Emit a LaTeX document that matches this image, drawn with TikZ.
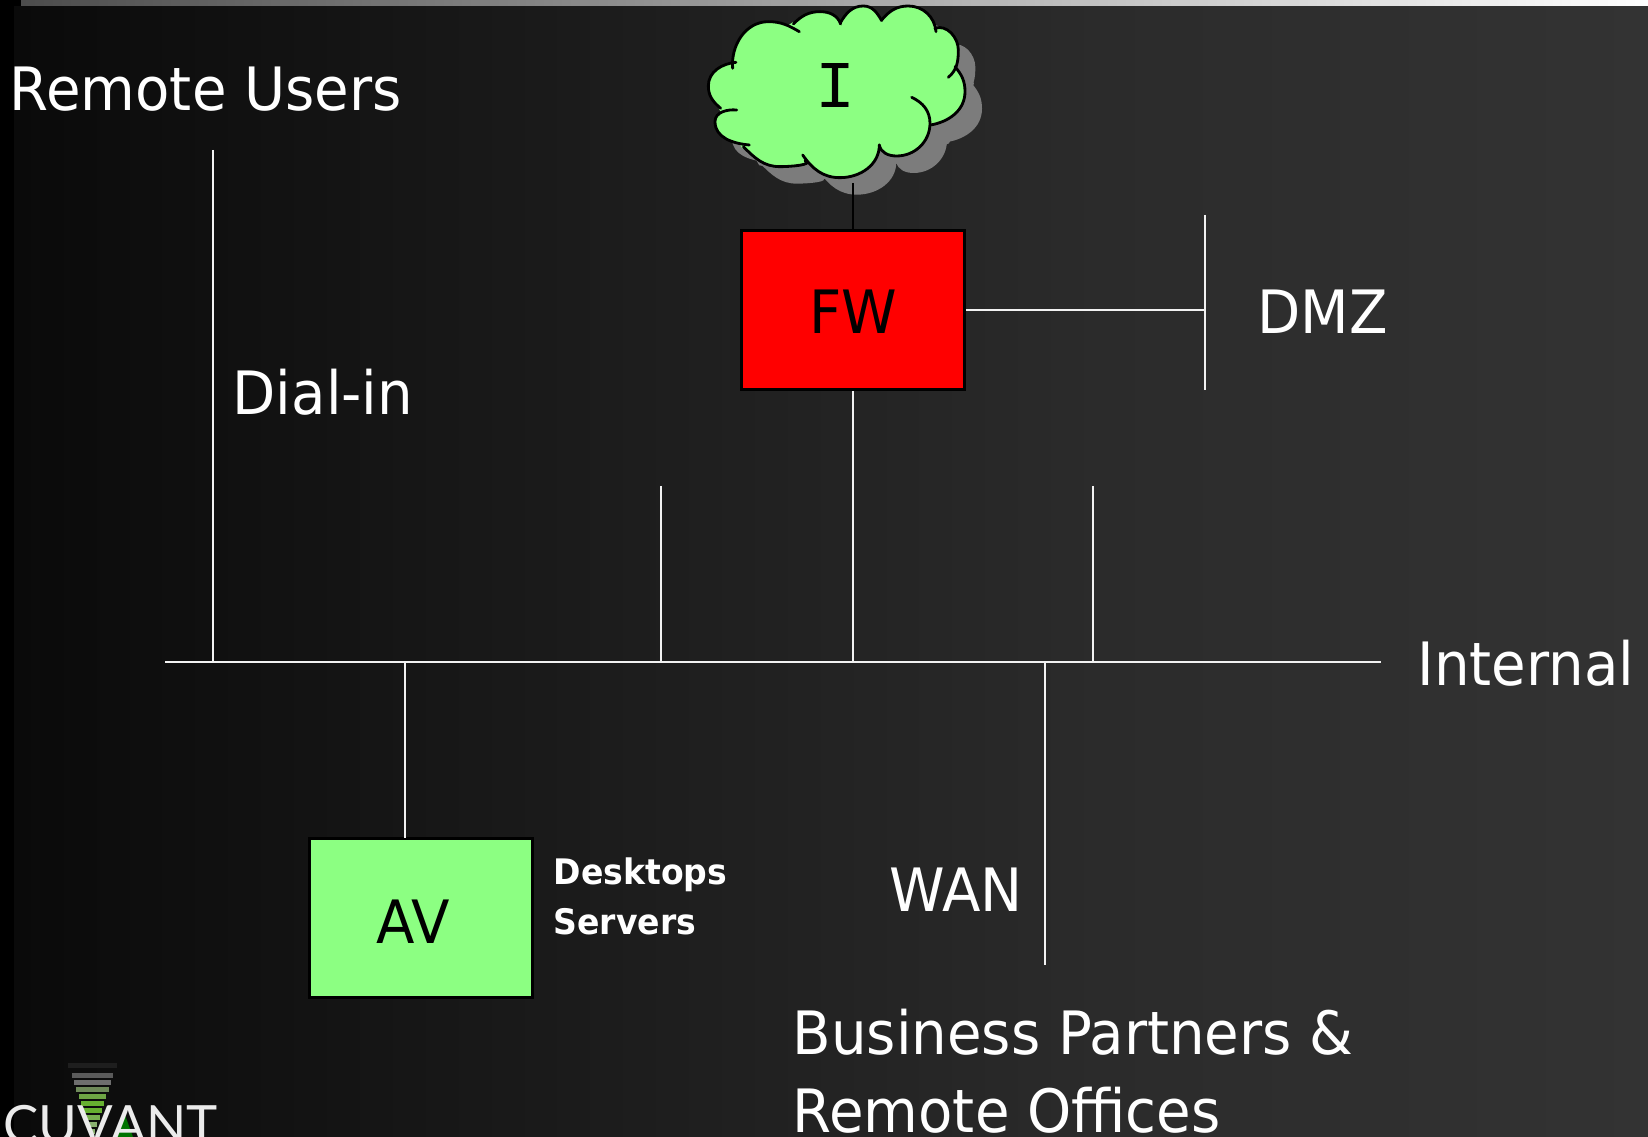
\documentclass[tikz,border=0pt]{standalone}
\usepackage{fontspec}
\setmainfont{DejaVu Sans}[FakeStretch=0.94]
\newfontfamily\monofont{Liberation Mono}
\newfontfamily\logofont{Lato}
\usepackage{xcolor}
\definecolor{bgleft}{HTML}{0A0A0A}
\definecolor{bgmid}{HTML}{2B2B2B}
\definecolor{bgright}{HTML}{333333}
\definecolor{barleft}{HTML}{4C4C4C}
\definecolor{wire}{HTML}{F2F2F2}
\definecolor{avgreen}{HTML}{8CFF82}
\definecolor{fwred}{HTML}{FF0000}
\definecolor{cloudgrey}{HTML}{7C7C7C}
\tikzset{
  wireline/.style={draw=wire, line width=0.7pt},
  darkline/.style={draw=black, line width=0.8pt},
  boxnode/.style={draw=black, line width=0.8pt, minimum width=223*0.01cm, minimum height=159*0.01cm, inner sep=0pt},
  lbl/.style={text=white, font=\fontsize{17}{21}\selectfont, inner sep=0pt, anchor=west},
  smalllbl/.style={text=white, font=\fontsize{10}{12}\selectfont\bfseries, inner sep=0pt, anchor=west},
  boxlbl/.style={text=black, font=\fontsize{17}{21}\selectfont, inner sep=0pt}
}
% one lobe per line, in 3x crop units
\newcommand{\cloudlobes}[1]{
  \path[#1] (158,205) to[out=95,in=180] (265,65) to[out=0,in=150] (358,95);
  \path[#1] (340,72) to[out=45,in=180] (420,35) to[out=0,in=110] (482,72);
  \path[#1] (480,70) to[out=60,in=180] (550,18) to[out=0,in=120] (605,62);
  \path[#1] (605,60) to[out=50,in=180] (685,18) to[out=0,in=95] (768,95);
  \path[#1] (765,85) to[out=20,in=90] (835,150) to[out=-90,in=40] (805,232);
  \path[#1] (825,200) to[out=-50,in=90] (855,275) to[out=-90,in=10] (752,375);
  \path[#1] (695,292) to[out=-25,in=90] (750,370) to[out=-90,in=0] (650,468) to[out=180,in=-80] (598,435);
  \path[#1] (598,435) to[out=-90,in=0] (480,533) to[out=180,in=-55] (368,465);
  \path[#1] (375,482) to[out=-25,in=0] (300,500) to[out=180,in=-45] (190,440);
  \path[#1] (208,435) to[out=175,in=-90] (105,365) to[out=90,in=175] (170,330);
  \path[#1] (122,325) to[out=140,in=-90] (85,258) to[out=90,in=185] (168,187);
}
\newcommand{\cloudcore}{
  (160,190) -- (340,72) -- (482,70) -- (605,60) -- (768,90) -- (825,200) -- (752,375)
  -- (598,435) -- (375,482) -- (190,440) -- (122,325) -- cycle
}
\begin{document}
\begin{tikzpicture}[x=0.01cm,y=-0.01cm]
  \useasboundingbox (0,0) rectangle (1648,1137);

  % backdrop
  \fill[black] (0,0) rectangle (14,1137);
  \shade[left color=bgleft, right color=bgmid] (14,0) rectangle (1100,1137);
  \shade[left color=bgmid, right color=bgright] (1100,0) rectangle (1648,1137);
  \fill[black] (0,0) rectangle (21,6);
  \shade[left color=barleft, right color=white] (21,0) rectangle (1648,6);

  % cloud
  \begin{scope}[shift={(697,17)},x=0.01cm/3,y=-0.01cm/3]
    \cloudlobes{fill=cloudgrey}
    \path[fill=cloudgrey, draw=cloudgrey, line width=1pt] \cloudcore;
  \end{scope}
  \begin{scope}[shift={(680,0)},x=0.01cm/3,y=-0.01cm/3]
    \cloudlobes{fill=avgreen}
    \path[fill=avgreen, draw=avgreen, line width=1pt] \cloudcore;
    \cloudlobes{darkline, line cap=round}
  \end{scope}
  \node[boxlbl, font=\fontsize{19}{23}\selectfont\monofont] (inet) at (836,86) {I};

  % boxes
  \node[boxnode, fill=fwred] (fw) at (853,310) {};
  \node[boxlbl] (fwtext) at (853,312) {FW};
  \node[boxnode, fill=avgreen] (av) at (421,918) {};
  \node[boxlbl] (avtext) at (413,922) {AV};

  % free ends
  \coordinate (cloudfoot) at (853,183);
  \coordinate (busL) at (165,662);
  \coordinate (busR) at (1381,662);
  \coordinate (dialtop) at (213,150);
  \coordinate (dialbus) at (213,662);
  \coordinate (avbus) at (405,662);
  \coordinate (avtop) at (405,838);
  \coordinate (stubA) at (661,486);
  \coordinate (stubAbus) at (661,662);
  \coordinate (stubB) at (1093,486);
  \coordinate (stubBbus) at (1093,662);
  \coordinate (fwbus) at (853,662);
  \coordinate (wanbus) at (1045,662);
  \coordinate (wanend) at (1045,965);
  \coordinate (dmzjoin) at (1205,310);
  \coordinate (dmztop) at (1205,215);
  \coordinate (dmzbot) at (1205,390);

  % connectors
  \draw[darkline] (cloudfoot) -- (fw.north);
  \draw[wireline] (fw.east) -- (dmzjoin);
  \draw[wireline] (dmztop) -- (dmzbot);
  \draw[wireline] (fw.south) -- (fwbus);
  \draw[wireline] (busL) -- (busR);
  \draw[wireline] (dialtop) -- (dialbus);
  \draw[wireline] (avbus) -- (avtop);
  \draw[wireline] (stubA) -- (stubAbus);
  \draw[wireline] (stubB) -- (stubBbus);
  \draw[wireline] (wanbus) -- (wanend);

  % labels
  \node[lbl] (remote) at (9,89) {Remote Users};
  \node[lbl] (dial) at (232,392) {Dial-in};
  \node[lbl] (dmz) at (1257,312) {DMZ};
  \node[lbl] (internal) at (1417,663) {Internal};
  \node[lbl] (wan) at (889,890) {WAN};
  \node[smalllbl] (desk) at (553,875) {Desktops};
  \node[smalllbl] (serv) at (553,922) {Servers};
  \node[lbl, align=left, anchor=north west] (partners) at (792,1008) {Business Partners \&\\[1.2pt]Remote Offices};

  % logo, cut off by the page edge
  \foreach \y/\c in {1066/1E1E1E,1076/5A5A5A,1083/6E6E6E,1090/6F8A5A,1097/6EA544,1104/66B030,1111/66B030,1118/78B050,1125/8AB070,1132/8AB070}{
    \definecolor{stripe}{HTML}{\c}
    \fill[stripe] ({67+(\y-1062)*0.33},\y-3) rectangle ({118-(\y-1062)*0.33},\y+2);
  }
  \fill[green!45!black] (125,1115) -- (133,1137) -- (117,1137) -- cycle;
  \node[text=white!92!black, font=\fontsize{15}{18}\selectfont\logofont, inner sep=0pt, anchor=base west] (logo) at (3,1143) {CUVANT};
\end{tikzpicture}
\end{document}
